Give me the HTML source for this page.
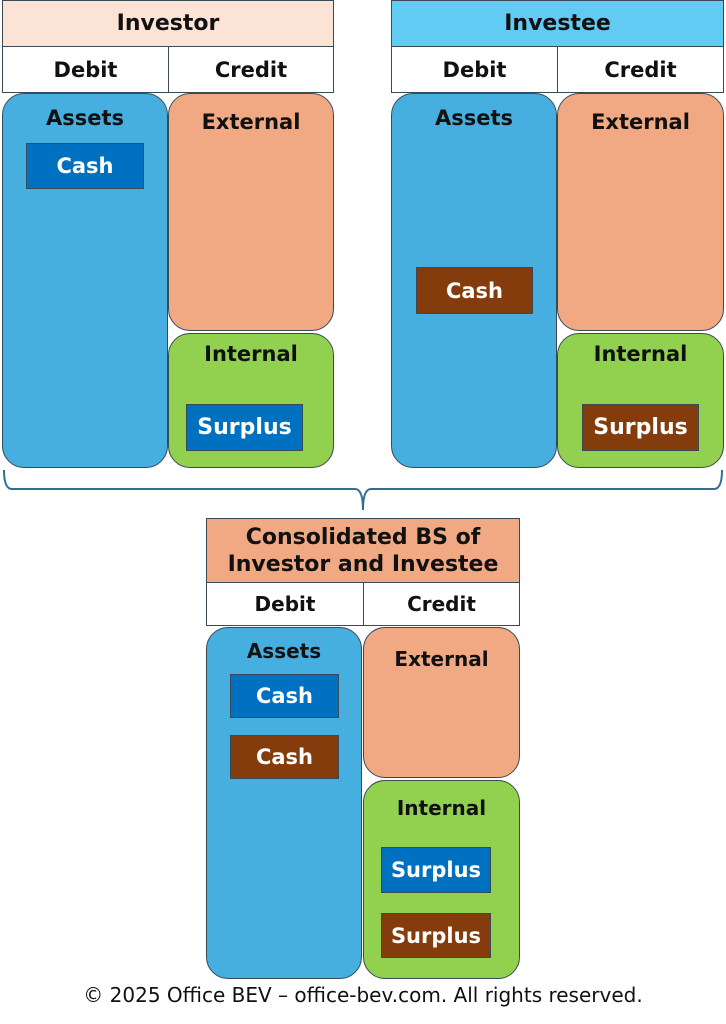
<!DOCTYPE html>
<html><head><style>
body{margin:0;width:726px;height:1024px;background:#fff;position:relative;overflow:hidden;font-family:"DejaVu Sans","Liberation Sans",sans-serif;}
.b{position:absolute;box-sizing:border-box;border:1.5px solid #3a4a55;display:flex;justify-content:center;font-weight:bold;color:#111;}
.c{align-items:center;}
.r{border-radius:22px;padding-top:12px;}
.blue{background:#47aee0;}
.ext{background:#f1a983;}
.grn{background:#92d050;}
.k{color:#fff;align-items:center;}
.kb{background:#0070c0;}
.kr{background:#843c0c;}
</style></head><body>
<!-- Investor -->
<div class="b c" style="left:2px;top:0;width:332px;height:47px;background:#fbe3d6;font-size:22px;">Investor</div>
<div class="b c" style="left:2px;top:46px;width:167px;height:47px;background:#fff;font-size:21px;">Debit</div>
<div class="b c" style="left:168px;top:46px;width:166px;height:47px;background:#fff;font-size:21px;">Credit</div>
<div class="b r blue" style="left:2px;top:93px;width:166px;height:375px;font-size:21px;">Assets</div>
<div class="b r ext" style="left:168px;top:93px;width:166px;height:238px;font-size:21px;padding-top:16px;">External</div>
<div class="b r grn" style="left:168px;top:333px;width:166px;height:135px;font-size:21px;padding-top:8px;">Internal</div>
<div class="b k kb" style="left:26px;top:143px;width:118px;height:46px;font-size:21px;">Cash</div>
<div class="b k kb" style="left:186px;top:404px;width:117px;height:47px;font-size:22px;">Surplus</div>
<!-- Investee -->
<div class="b c" style="left:391px;top:0;width:333px;height:47px;background:#61cbf4;font-size:22px;">Investee</div>
<div class="b c" style="left:391px;top:46px;width:167px;height:47px;background:#fff;font-size:21px;">Debit</div>
<div class="b c" style="left:557px;top:46px;width:167px;height:47px;background:#fff;font-size:21px;">Credit</div>
<div class="b r blue" style="left:391px;top:93px;width:166px;height:375px;font-size:21px;">Assets</div>
<div class="b r ext" style="left:557px;top:93px;width:167px;height:238px;font-size:21px;padding-top:16px;">External</div>
<div class="b r grn" style="left:557px;top:333px;width:167px;height:135px;font-size:21px;padding-top:8px;">Internal</div>
<div class="b k kr" style="left:416px;top:267px;width:117px;height:47px;font-size:21px;">Cash</div>
<div class="b k kr" style="left:582px;top:404px;width:117px;height:47px;font-size:22px;">Surplus</div>
<!-- brace -->
<svg style="position:absolute;left:0;top:460px" width="726" height="60">
<path d="M4 10 Q4 29 12 29 L355 29 Q363 29 363 50 Q363 29 371 29 L714 29 Q722 29 722 10" fill="none" stroke="#2f6f8f" stroke-width="2"/>
</svg>
<!-- Consolidated -->
<div class="b c" style="left:206px;top:518px;width:314px;height:65px;background:#f1a983;font-size:22px;text-align:center;line-height:27px;">Consolidated BS of<br>Investor and Investee</div>
<div class="b c" style="left:206px;top:582px;width:158px;height:44px;background:#fff;font-size:20px;">Debit</div>
<div class="b c" style="left:363px;top:582px;width:157px;height:44px;background:#fff;font-size:20px;">Credit</div>
<div class="b r blue" style="left:206px;top:627px;width:156px;height:352px;font-size:20px;padding-top:11px;">Assets</div>
<div class="b r ext" style="left:363px;top:627px;width:157px;height:151px;font-size:20px;padding-top:19px;">External</div>
<div class="b r grn" style="left:363px;top:780px;width:157px;height:199px;font-size:20px;padding-top:15px;">Internal</div>
<div class="b k kb" style="left:230px;top:674px;width:109px;height:44px;font-size:21px;">Cash</div>
<div class="b k kr" style="left:230px;top:735px;width:109px;height:44px;font-size:21px;">Cash</div>
<div class="b k kb" style="left:381px;top:847px;width:110px;height:46px;font-size:21px;">Surplus</div>
<div class="b k kr" style="left:381px;top:913px;width:110px;height:45px;font-size:21px;">Surplus</div>
<div style="position:absolute;left:0;width:726px;top:983px;text-align:center;font-size:20px;color:#111;">© 2025 Office BEV – office-bev.com. All rights reserved.</div>
</body></html>
